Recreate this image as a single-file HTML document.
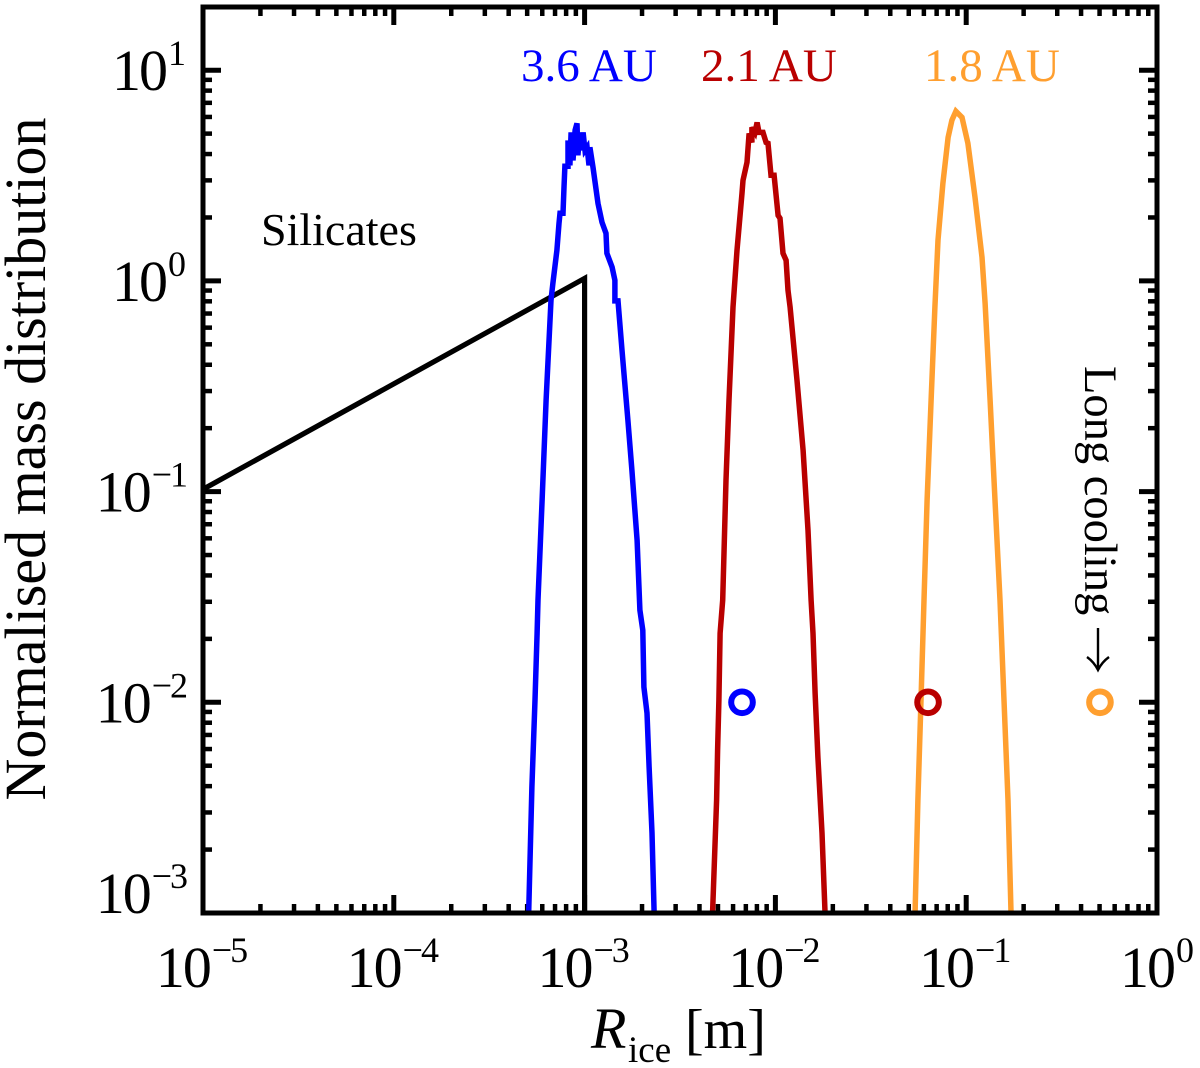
<!DOCTYPE html>
<html lang="en">
<head>
<meta charset="utf-8">
<title>Normalised mass distribution</title>
<style>
html,body{margin:0;padding:0;background:#fff;}
svg{display:block;font-family:"Liberation Serif",serif;}
</style>
</head>
<body>
<svg id="chart" width="1200" height="1068" viewBox="0 0 1200 1068" xmlns="http://www.w3.org/2000/svg">
  <g id="ticks"></g>
  <g id="tick-labels"></g>
  <g id="series"></g>
  <rect x="203" y="7" width="954" height="906" fill="none" stroke="#000" stroke-width="5"/>
  <text transform="translate(45,459) rotate(-90)" text-anchor="middle" font-size="58">Normalised mass distribution</text>
  <text x="591" y="1048" font-size="58" font-style="italic">R</text>
  <text x="628" y="1062" font-size="37">ice</text>
  <text x="685" y="1048" font-size="56">[m]</text>
  <text x="521" y="81" font-size="47" fill="#0000ff">3.6 AU</text>
  <text x="701" y="81" font-size="47" fill="#b90000">2.1 AU</text>
  <text x="924" y="81" font-size="47" fill="#ff9f2f">1.8 AU</text>
  <text x="261" y="245" font-size="46">Silicates</text>
  <text transform="translate(1085,366) rotate(90)" font-size="46.5">Long cooling</text>
  <g fill="none" stroke="#000" stroke-width="2.4">
    <line x1="1098" y1="628" x2="1098" y2="669"/>
    <path d="M1087 657 Q1094 662 1098 670 Q1102 662 1109 657"/>
  </g>
</svg>
<script>
// Axis decades and tick labels
const xDecades = [-5, -4, -3, -2, -1, 0];
const xTickLabels = ["\u22125", "\u22124", "\u22123", "\u22122", "\u22121", "0"];
const yDecades = [-3, -2, -1, 0, 1];
const yTickLabels = ["\u22123", "\u22122", "\u22121", "0", "1"];
const minorMultiples = [2, 3, 4, 5, 6, 7, 8, 9];
const yAxisTop = 1.30;

// Series values: log10(R / m) and log10(normalised mass)
const silicatesLogR = [-5, -3, -3];
const silicatesLogM = [-0.989, 0.012, -3];

const blueLogR = [-3.293,-3.276,-3.260,-3.249,-3.244,-3.223,-3.202,-3.176,-3.166,-3.145,-3.134,-3.129,-3.113,-3.108,-3.103,-3.087,-3.087,-3.077,-3.071,-3.061,-3.050,-3.040,-3.035,-3.024,-3.019,-3.008,-2.998,-2.987,-2.977,-2.972,-2.956,-2.930,-2.909,-2.888,-2.883,-2.856,-2.841,-2.841,-2.825,-2.804,-2.773,-2.752,-2.725,-2.710,-2.695,-2.689,-2.673,-2.662,-2.647,-2.636];
const blueLogM = [-2.995,-2.402,-1.990,-1.672,-1.515,-1.041,-0.566,-0.092,-0.011,0.145,0.273,0.321,0.321,0.444,0.544,0.544,0.667,0.548,0.705,0.572,0.715,0.748,0.596,0.705,0.620,0.705,0.620,0.634,0.548,0.634,0.539,0.368,0.278,0.226,0.131,0.065,0.003,-0.095,-0.095,-0.329,-0.661,-0.898,-1.231,-1.563,-1.658,-1.928,-2.051,-2.307,-2.620,-2.995];

const redLogR = [-2.329,-2.308,-2.303,-2.296,-2.290,-2.276,-2.259,-2.243,-2.222,-2.201,-2.175,-2.170,-2.149,-2.138,-2.123,-2.123,-2.107,-2.096,-2.086,-2.065,-2.049,-2.039,-2.023,-2.007,-1.986,-1.976,-1.960,-1.944,-1.934,-1.923,-1.887,-1.855,-1.829,-1.813,-1.803,-1.792,-1.777,-1.756,-1.740];
const redLogM = [-2.995,-2.464,-2.227,-1.990,-1.672,-1.515,-0.946,-0.566,-0.125,0.145,0.416,0.477,0.563,0.700,0.657,0.729,0.705,0.752,0.705,0.705,0.657,0.653,0.501,0.501,0.311,0.297,0.131,0.098,-0.045,-0.125,-0.472,-0.804,-1.183,-1.515,-1.672,-1.956,-2.260,-2.620,-2.995];

const orangeLogR = [-1.268,-1.253,-1.237,-1.221,-1.205,-1.184,-1.164,-1.148,-1.122,-1.095,-1.075,-1.054,-1.022,-0.991,-0.954,-0.917,-0.901,-0.875,-0.849,-0.823,-0.802,-0.781,-0.765];
const orangeLogM = [-2.995,-2.464,-1.990,-1.515,-1.041,-0.566,-0.125,0.193,0.463,0.681,0.762,0.805,0.776,0.653,0.397,0.112,-0.106,-0.566,-1.041,-1.515,-1.990,-2.464,-2.995];

const markerLogR = [-2.175, -1.200, -0.299];
const markerLogM = [-2, -2, -2];
const markerColors = ["#0000ff", "#b90000", "#ff9f2f"];
const markerNames = ["marker-3-6-au", "marker-2-1-au", "marker-1-8-au"];

// Axis functions
const plot = {left: 203, right: 1157, top: 7, bottom: 913};
const pxPerDecadeX = (plot.right - plot.left) / 5;
const pxPerDecadeY = 210.7;
function xScale(logR) { return plot.left + (logR + 5) * pxPerDecadeX; }
function yScale(logM) { return plot.bottom - (logM + 3) * pxPerDecadeY; }

const NS = "http://www.w3.org/2000/svg";
function make(tag, parent, attrs) {
  const el = document.createElementNS(NS, tag);
  for (const k in attrs) el.setAttribute(k, attrs[k]);
  parent.appendChild(el);
  return el;
}

const ticksG = document.getElementById("ticks");
function tickLine(x1, y1, x2, y2, major) {
  const el = make("line", ticksG, {x1: x1, y1: y1, x2: x2, y2: y2, stroke: "#000", "stroke-width": major ? 5 : 4.5});
  
  
}
const majorLen = 18, minorLen = 9;
xDecades.forEach(d => {
  const x = xScale(d);
  tickLine(x, plot.bottom, x, plot.bottom - majorLen, true);
  tickLine(x, plot.top, x, plot.top + majorLen, true);
  if (d === 0) return;
  minorMultiples.forEach(m => {
    const mx = xScale(d + Math.log10(m));
    tickLine(mx, plot.bottom, mx, plot.bottom - minorLen, false);
    tickLine(mx, plot.top, mx, plot.top + minorLen, false);
  });
});
yDecades.forEach(d => {
  const y = yScale(d);
  tickLine(plot.left, y, plot.left + majorLen, y, true);
  tickLine(plot.right, y, plot.right - majorLen, y, true);
  minorMultiples.forEach(m => {
    const v = d + Math.log10(m);
    if (v > yAxisTop) return;
    const my = yScale(v);
    tickLine(plot.left, my, plot.left + minorLen, my, false);
    tickLine(plot.right, my, plot.right - minorLen, my, false);
  });
});

const labelsG = document.getElementById("tick-labels");
function tickLabel(x, y, anchor, exp, axisName) {
  const t = make("text", labelsG, {x: x, y: y, "text-anchor": anchor, "font-size": 58});
  
  
  const base = make("tspan", t, {"letter-spacing": -2});
  base.textContent = "10";
  const s = make("tspan", t, {"font-size": 36, dy: -25, dx: 2, "letter-spacing": exp.length > 1 ? -2 : 0});
  s.textContent = exp;
}
xDecades.forEach((d, i) => tickLabel(xScale(d) - (xTickLabels[i].length > 1 ? 2 : 0), 987, "middle", xTickLabels[i], "x-tick-label"));
yDecades.forEach((d, i) => {
  const base = d === -3 ? 913 : yScale(d) + 20;
  tickLabel(186, base, "end", yTickLabels[i], "y-tick-label");
});

const seriesG = document.getElementById("series");
function drawLine(rs, ms, color, name, width) {
  const pts = rs.map((r, i) => xScale(r).toFixed(1) + "," + yScale(ms[i]).toFixed(1)).join(" ");
  const p = make("polyline", seriesG, {points: pts, fill: "none", stroke: color, "stroke-width": width, "stroke-linejoin": "miter", "stroke-miterlimit": 3});
  
  
}
drawLine(silicatesLogR, silicatesLogM, "#000", "silicates-line", 5.2);
drawLine(blueLogR, blueLogM, "#0000ff", "series-3-6-au", 5.5);
drawLine(redLogR, redLogM, "#b90000", "series-2-1-au", 5.5);
drawLine(orangeLogR, orangeLogM, "#ff9f2f", "series-1-8-au", 5.5);

markerLogR.forEach((r, i) => {
  const c = make("circle", seriesG, {cx: xScale(r), cy: yScale(markerLogM[i]), r: 10.8, fill: "none", stroke: markerColors[i], "stroke-width": 6});
  
  
});
</script>
</body>
</html>
